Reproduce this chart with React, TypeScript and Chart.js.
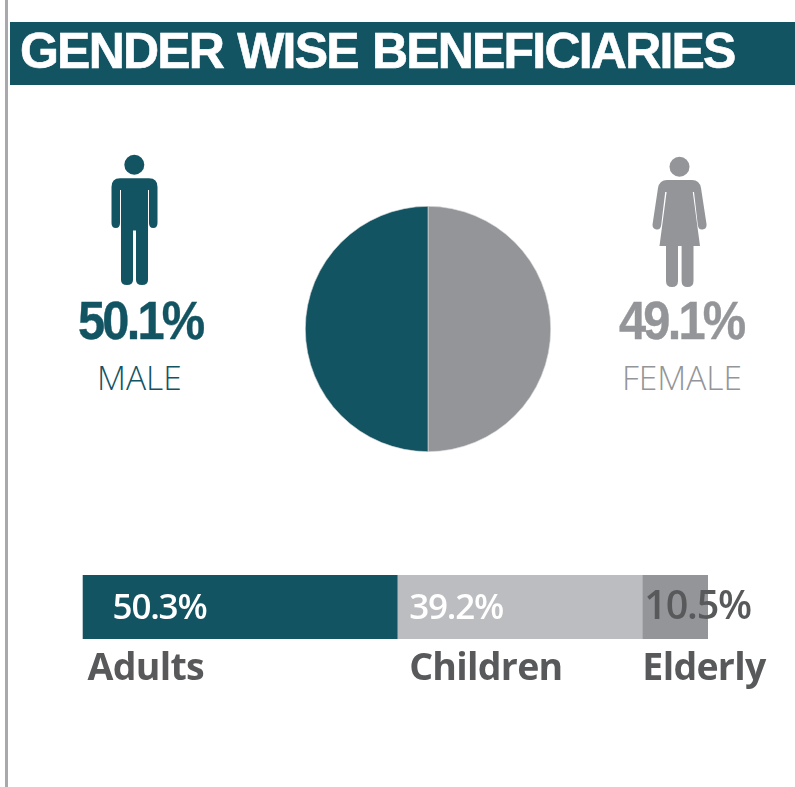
import React, { useEffect, useRef } from "react";
import { Chart, registerables } from "chart.js";

Chart.register(...registerables);

const TEAL = "#135463";
const GREY = "#939598";
const LIGHT = "#BCBDC0";
const INK = "#58595B";

const titleText = "GENDER WISE BENEFICIARIES";
const genderLabels = ["MALE", "FEMALE"];
const genderPercentLabels = ["50.1%", "49.1%"];
const pieLabels = ["FEMALE", "MALE"];
const pieShares = [50, 50];
const ageGroups = ["Adults", "Children", "Elderly"];
const ageShares = [50.3, 39.2, 10.5];
const ageColors = [TEAL, LIGHT, GREY];
const ageValueColors = ["#FFFFFF", "#FFFFFF", INK];
const ageValueFontSizes = [35, 35, 39.5];
const ageValueWeights = [600, 600, 600];
const valueOffsets = [30, 12, 2];
const nameOffsets = [5, 12, 0];

const abs = (left: number, top: number): React.CSSProperties => ({
  position: "absolute",
  left,
  top,
  whiteSpace: "nowrap",
  lineHeight: 1,
  margin: 0,
});

const ageLabelsPlugin = {
  id: "ageLabels",
  afterDatasetsDraw(chart: any) {
    const { ctx, scales } = chart;
    const x = scales.x;
    const y = scales.y;
    const mid = y.getPixelForValue(0);
    let start = 0;
    ctx.save();
    ctx.textBaseline = "alphabetic";
    ctx.textAlign = "left";
    ageShares.forEach((share, i) => {
      const left = x.getPixelForValue(start);
      ctx.font = `${ageValueWeights[i]} ${ageValueFontSizes[i]}px "Open Sans"`;
      ctx.letterSpacing = "-1.2px";
      ctx.fillStyle = ageValueColors[i];
      ctx.fillText(`${share}%`, left + valueOffsets[i], mid + 12);
      ctx.font = '700 37.5px "Open Sans"';
      ctx.letterSpacing = "-0.7px";
      ctx.fillStyle = INK;
      ctx.fillText(ageGroups[i], left + nameOffsets[i], y.bottom + 41);
      start += share;
    });
    ctx.restore();
  },
};

function MaleIcon() {
  return (
    <svg width="60" height="140" viewBox="100 150 60 140" style={{ position: "absolute", left: 100, top: 150 }}>
      <circle cx="134.3" cy="164.7" r="10" fill={TEAL} />
      <path
        fill={TEAL}
        d="M120 178.3 H149 Q157.5 178.3 157.5 187 V223 Q157.5 228 153.2 228 Q149 228 149 223 V190 H148 V280 Q148 285 142 285 Q136 285 136 280 V230.5 H133 V280 Q133 285 127 285 Q121 285 121 280 V190 H120 V223 Q120 228 115.8 228 Q111.5 228 111.5 223 V187 Q111.5 178.3 120 178.3 Z"
      />
    </svg>
  );
}

function FemaleIcon() {
  return (
    <svg width="70" height="150" viewBox="645 150 70 150" style={{ position: "absolute", left: 645, top: 150 }}>
      <circle cx="679.5" cy="166.7" r="10" fill={GREY} />
      <path
        fill={GREY}
        d="M667 180 H692 Q699.5 180 701 188 L706.5 224 Q707 229 702.5 229.5 Q698.5 230 697.8 225 L694 192 H692.8 L700 246 H693.5 V281 Q693.5 287 687.5 287 Q681.6 287 681.6 281 V246 H678 V281 Q678 287 672 287 Q666 287 666 281 V246 H659.5 L666.6 192 H665.2 L661.2 225 Q660.5 230 656.5 229.5 Q652 229 652.6 224 L658 188 Q659.5 180 667 180 Z"
      />
    </svg>
  );
}

export default function App() {
  const pieRef = useRef<HTMLCanvasElement>(null);
  const barRef = useRef<HTMLCanvasElement>(null);

  useEffect(() => {
    const pie = new Chart(pieRef.current!, {
      type: "pie",
      data: {
        labels: pieLabels,
        datasets: [
          {
            data: pieShares,
            backgroundColor: [GREY, TEAL],
            borderColor: "#DADBDC",
            borderWidth: 0.6,
          },
        ],
      },
      options: {
        responsive: false,
        animation: false,
        layout: { padding: 0 },
        plugins: { legend: { display: false }, tooltip: { enabled: false } },
      },
    });

    const bar = new Chart(barRef.current!, {
      type: "bar",
      data: {
        labels: ["Share"],
        datasets: ageShares.map((share, i) => ({
          label: ageGroups[i],
          data: [share],
          backgroundColor: ageColors[i],
          borderWidth: 0,
          barPercentage: 1,
          categoryPercentage: 1,
        })),
      },
      options: {
        indexAxis: "y",
        responsive: false,
        animation: false,
        layout: { padding: { left: 82.6, right: 87, top: 15, bottom: 61 } },
        scales: {
          x: { stacked: true, min: 0, max: 100, display: false },
          y: { stacked: true, display: false },
        },
        plugins: { legend: { display: false }, tooltip: { enabled: false } },
      },
      plugins: [ageLabelsPlugin],
    });

    return () => {
      pie.destroy();
      bar.destroy();
    };
  }, []);

  const bigStyle: React.CSSProperties = {
    fontFamily: '"Liberation Sans", Arial, sans-serif',
    fontWeight: 700,
    fontSize: 53,
    letterSpacing: -3,
    transform: "scaleX(0.92)",
    transformOrigin: "left top",
    WebkitTextStroke: "0.4px currentColor",
  };
  const smallStyle: React.CSSProperties = {
    fontFamily: '"Open Sans", sans-serif',
    fontWeight: 300,
    fontSize: 33.5,
  };

  return (
    <div
      style={{
        position: "fixed",
        left: 0,
        top: 0,
        width: 795,
        height: 787,
        background: "#FFFFFF",
        overflow: "hidden",
      }}
    >
      <div style={{ position: "absolute", left: 5, top: 0, width: 3, height: 787, background: "#A9A9AD" }} />
      <div style={{ position: "absolute", left: 10, top: 22, width: 785, height: 63, background: TEAL }} />
      <div
        style={{
          ...abs(20, 26),
          fontFamily: '"Liberation Sans", Arial, sans-serif',
          fontWeight: 700,
          fontSize: 50,
          letterSpacing: -1.8,
          wordSpacing: 2,
          color: "#FFFFFF",
          WebkitTextStroke: "0.6px #FFFFFF",
        }}
      >
        {titleText}
      </div>

      <MaleIcon />
      <FemaleIcon />

      <div style={{ ...abs(78, 294), ...bigStyle, color: TEAL }}>{genderPercentLabels[0]}</div>
      <div style={{ ...abs(619, 294), ...bigStyle, color: GREY }}>{genderPercentLabels[1]}</div>
      <div style={{ ...abs(97, 361), ...smallStyle, color: TEAL }}>{genderLabels[0]}</div>
      <div style={{ ...abs(622, 361), ...smallStyle, color: GREY }}>{genderLabels[1]}</div>

      <canvas ref={pieRef} width={246} height={246} style={{ position: "absolute", left: 305, top: 206, display: "block" }} />
      <canvas ref={barRef} width={795} height={140} style={{ position: "absolute", left: 0, top: 560, display: "block" }} />
    </div>
  );
}
